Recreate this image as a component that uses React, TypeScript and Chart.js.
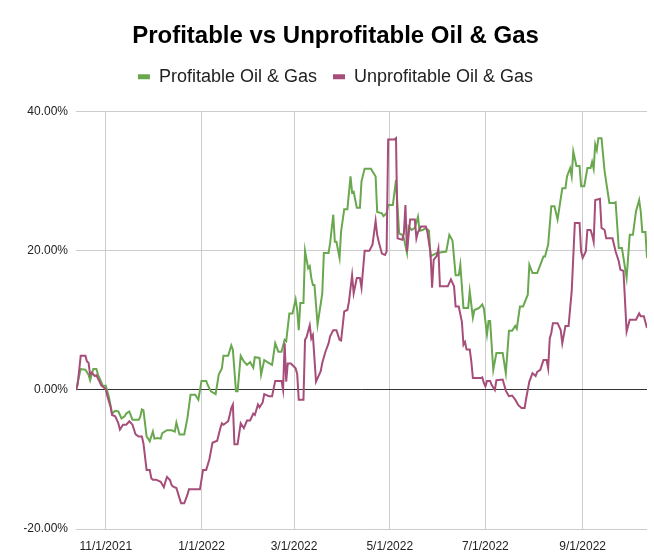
import React, { useEffect, useRef } from 'react';
import { Chart, registerables } from 'chart.js';

Chart.register(...registerables);

const TITLE = 'Profitable vs Unprofitable Oil & Gas';
const seriesNames = ['Profitable Oil & Gas', 'Unprofitable Oil & Gas'];
const seriesColors = ['#6aa84f', '#a64d79'];

const profitableDates = [
  '2021-10-13','2021-10-16','2021-10-19','2021-10-21','2021-10-22','2021-10-24','2021-10-26','2021-10-27','2021-10-29','2021-10-30',
  '2021-11-01','2021-11-03','2021-11-05','2021-11-07','2021-11-09','2021-11-11','2021-11-13','2021-11-14','2021-11-16','2021-11-17',
  '2021-11-18','2021-11-22','2021-11-23','2021-11-24','2021-11-25','2021-11-27','2021-11-28','2021-11-29','2021-12-01','2021-12-02',
  '2021-12-04','2021-12-06','2021-12-07','2021-12-10','2021-12-13','2021-12-15','2021-12-16','2021-12-18','2021-12-21','2021-12-23',
  '2021-12-25','2021-12-28','2021-12-30','2022-01-01','2022-01-04','2022-01-05','2022-01-07','2022-01-10','2022-01-12','2022-01-14',
  '2022-01-15','2022-01-18','2022-01-20','2022-01-21','2022-01-23','2022-01-24','2022-01-26','2022-01-28','2022-01-30','2022-02-01',
  '2022-02-03','2022-02-04','2022-02-07','2022-02-08','2022-02-10','2022-02-12','2022-02-15','2022-02-17','2022-02-19','2022-02-21',
  '2022-02-23','2022-02-24','2022-02-26','2022-02-28','2022-03-02','2022-03-03','2022-03-04','2022-03-05','2022-03-07','2022-03-08',
  '2022-03-10','2022-03-11','2022-03-12','2022-03-13','2022-03-14','2022-03-16','2022-03-19','2022-03-20','2022-03-23','2022-03-24',
  '2022-03-26','2022-03-27','2022-03-28','2022-03-30','2022-03-31','2022-04-02','2022-04-04','2022-04-06','2022-04-07','2022-04-08',
  '2022-04-10','2022-04-12','2022-04-13','2022-04-15','2022-04-19','2022-04-22','2022-04-23','2022-04-26','2022-04-27','2022-04-29',
  '2022-04-30','2022-05-03','2022-05-05','2022-05-07','2022-05-09','2022-05-10','2022-05-12','2022-05-13','2022-05-15','2022-05-17',
  '2022-05-19','2022-05-20','2022-05-22','2022-05-24','2022-05-26','2022-05-27','2022-05-31','2022-06-06','2022-06-08','2022-06-10',
  '2022-06-12','2022-06-14','2022-06-15','2022-06-17','2022-06-20','2022-06-21','2022-06-23','2022-06-24','2022-06-27','2022-06-29',
  '2022-06-30','2022-07-02','2022-07-03','2022-07-04','2022-07-06','2022-07-08','2022-07-12','2022-07-14','2022-07-16','2022-07-18',
  '2022-07-20','2022-07-21','2022-07-23','2022-07-25','2022-07-28','2022-07-29','2022-07-31','2022-08-03','2022-08-05','2022-08-07',
  '2022-08-08','2022-08-10','2022-08-12','2022-08-14','2022-08-16','2022-08-19','2022-08-21','2022-08-22','2022-08-24','2022-08-25',
  '2022-08-26','2022-08-28','2022-08-30','2022-08-31','2022-09-02','2022-09-04','2022-09-06','2022-09-07','2022-09-08','2022-09-09',
  '2022-09-10','2022-09-11','2022-09-13','2022-09-14','2022-09-15','2022-09-18','2022-09-21','2022-09-22','2022-09-24','2022-09-26',
  '2022-09-27','2022-09-29','2022-10-01','2022-10-03','2022-10-05','2022-10-07','2022-10-08','2022-10-09','2022-10-11','2022-10-12',
];

const profitableValues = [
  0, 3.0, 2.9, 2.2, 1.4, 3.0, 3.0, 2.2, 1.2, 0.6,
  0.6, -1.0, -3.4, -3.0, -3.1, -4.1, -3.8, -3.4, -3.1, -3.7,
  -4.3, -4.3, -3.8, -2.8, -2.9, -6.7, -7.0, -7.4, -6.0, -7.0,
  -6.9, -7.0, -6.2, -5.8, -5.8, -6.0, -4.7, -6.4, -6.4, -4.1,
  -0.7, -0.7, -1.4, 1.3, 1.3, 0.7, -0.2, -0.6, 2.2, 3.1,
  4.9, 4.9, 6.4, 5.8, -0.2, -0.2, 4.9, 4.1, 3.6, 4.0,
  3.2, 4.7, 4.6, 2.2, 4.3, 4.0, 3.6, 6.7, 5.5, 5.5,
  7.2, 7.0, 11.0, 11.0, 13.0, 11.5, 8.6, 12.5, 12.5, 20.0,
  17.5, 17.8, 16.1, 15.1, 15.1, 9.4, 13.9, 19.7, 19.7, 21.1,
  25.2, 21.3, 21.3, 19.0, 22.8, 26.0, 26.0, 30.7, 28.4, 28.5,
  26.2, 26.2, 30.0, 31.8, 31.8, 30.7, 25.6, 25.4, 25.0, 25.4,
  26.6, 26.6, 30.2, 22.5, 22.3, 21.8, 19.7, 23.5, 23.0, 23.3,
  24.9, 22.9, 23.0, 23.3, 22.9, 19.2, 19.7, 19.9, 22.3, 21.5,
  16.5, 16.5, 18.0, 11.8, 11.8, 14.2, 10.4, 11.5, 11.8, 12.3,
  11.7, 8.0, 9.9, 9.9, 2.9, 5.3, 5.3, 2.4, 8.5, 8.5,
  9.2, 8.8, 12.0, 12.0, 13.7, 18.0, 16.8, 16.8, 18.0, 19.2,
  19.2, 20.9, 26.4, 26.4, 24.5, 29.0, 29.0, 30.7, 31.9, 30.7,
  34.3, 32.2, 32.2, 29.3, 29.3, 31.9, 31.9, 32.8, 31.8, 35.3,
  34.5, 36.2, 36.2, 33.8, 31.4, 26.9, 26.9, 27.0, 20.4, 20.4,
  19.0, 16.1, 22.3, 22.3, 25.7, 27.3, 25.7, 22.7, 22.7, 19.0,
];

const unprofitableDates = [
  '2021-10-13','2021-10-14','2021-10-16','2021-10-19','2021-10-20','2021-10-21','2021-10-22','2021-10-23','2021-10-25','2021-10-26',
  '2021-10-28','2021-10-29','2021-10-30','2021-11-01','2021-11-02','2021-11-04','2021-11-05','2021-11-07','2021-11-09','2021-11-10',
  '2021-11-12','2021-11-14','2021-11-16','2021-11-18','2021-11-20','2021-11-22','2021-11-24','2021-11-25','2021-11-27','2021-11-29',
  '2021-11-30','2021-12-01','2021-12-03','2021-12-04','2021-12-06','2021-12-08','2021-12-09','2021-12-10','2021-12-12','2021-12-13',
  '2021-12-14','2021-12-16','2021-12-18','2021-12-19','2021-12-21','2021-12-23','2021-12-24','2021-12-28','2021-12-31','2022-01-02',
  '2022-01-04','2022-01-06','2022-01-08','2022-01-11','2022-01-13','2022-01-14','2022-01-15','2022-01-18','2022-01-19','2022-01-20',
  '2022-01-21','2022-01-22','2022-01-24','2022-01-26','2022-01-28','2022-01-30','2022-02-01','2022-02-03','2022-02-04','2022-02-06',
  '2022-02-07','2022-02-09','2022-02-10','2022-02-13','2022-02-15','2022-02-17','2022-02-21','2022-02-22','2022-02-23','2022-02-24',
  '2022-02-25','2022-02-27','2022-03-02','2022-03-03','2022-03-04','2022-03-07','2022-03-08','2022-03-09','2022-03-11','2022-03-12',
  '2022-03-13','2022-03-15','2022-03-18','2022-03-19','2022-03-21','2022-03-23','2022-03-24','2022-03-26','2022-03-28','2022-03-30',
  '2022-03-31','2022-04-02','2022-04-04','2022-04-05','2022-04-07','2022-04-08','2022-04-10','2022-04-12','2022-04-13','2022-04-15',
  '2022-04-18','2022-04-20','2022-04-22','2022-04-23','2022-04-24','2022-04-26','2022-04-28','2022-04-29','2022-04-30','2022-05-04',
  '2022-05-05','2022-05-06','2022-05-09','2022-05-10','2022-05-11','2022-05-12','2022-05-14','2022-05-17','2022-05-18','2022-05-19',
  '2022-05-21','2022-05-24','2022-05-25','2022-05-27','2022-05-28','2022-05-29','2022-05-31','2022-06-01','2022-06-02','2022-06-07',
  '2022-06-09','2022-06-11','2022-06-12','2022-06-14','2022-06-16','2022-06-17','2022-06-18','2022-06-19','2022-06-21','2022-06-22',
  '2022-06-23','2022-06-28','2022-06-29','2022-06-30','2022-07-01','2022-07-02','2022-07-04','2022-07-05','2022-07-07','2022-07-08',
  '2022-07-12','2022-07-14','2022-07-16','2022-07-18','2022-07-20','2022-07-22','2022-07-24','2022-07-26','2022-07-27','2022-07-29',
  '2022-07-31','2022-08-02','2022-08-03','2022-08-05','2022-08-07','2022-08-09','2022-08-10','2022-08-11','2022-08-12','2022-08-13',
  '2022-08-16','2022-08-18','2022-08-19','2022-08-21','2022-08-23','2022-08-25','2022-08-27','2022-08-30','2022-08-31','2022-09-01',
  '2022-09-03','2022-09-04','2022-09-06','2022-09-07','2022-09-08','2022-09-09','2022-09-12','2022-09-13','2022-09-15','2022-09-16',
  '2022-09-20','2022-09-22','2022-09-24','2022-09-25','2022-09-27','2022-09-29','2022-10-01','2022-10-05','2022-10-07','2022-10-08',
  '2022-10-10','2022-10-12',
];

const unprofitableValues = [
  0, 0.7, 4.9, 4.9, 4.1, 3.9, 2.2, 2.5, 2.0, 2.1,
  1.2, 0.7, 0.5, 0.1, -0.9, -2.4, -3.6, -3.8, -4.8, -5.7,
  -5.0, -5.0, -4.5, -5.0, -6.4, -6.7, -6.7, -7.7, -11.5, -11.5,
  -12.7, -12.9, -12.9, -13.0, -13.2, -14.0, -13.2, -12.5, -13.0, -13.7,
  -13.9, -14.1, -15.6, -16.3, -16.3, -15.1, -14.3, -14.3, -14.3, -11.5,
  -11.5, -10.0, -7.6, -7.3, -5.5, -4.8, -5.0, -4.5, -3.6, -2.6,
  -2.1, -7.8, -7.8, -4.8, -5.5, -4.4, -4.4, -3.4, -3.6, -2.1,
  -2.5, -1.8, -0.6, -0.9, -0.9, 1.3, 1.3, 0.0, 6.7, 1.2,
  3.8, 3.8, 3.1, 2.3, -1.4, -1.4, 7.2, 7.6, 9.3, 7.4,
  7.9, 1.2, 2.7, 3.9, 5.5, 6.7, 7.7, 8.6, 8.6, 7.2,
  7.1, 11.3, 11.5, 12.7, 16.5, 13.9, 16.1, 16.1, 14.7, 20.0,
  20.0, 20.9, 24.3, 22.3, 21.3, 19.6, 19.4, 19.9, 36.0, 36.0,
  36.2, 21.8, 21.6, 22.5, 26.6, 19.9, 24.5, 24.5, 21.8, 22.7,
  23.5, 23.5, 22.7, 19.7, 14.7, 18.7, 19.3, 20.3, 14.9, 14.9,
  15.9, 14.9, 12.0, 12.0, 9.8, 6.5, 6.9, 5.8, 5.8, 4.1,
  1.7, 1.7, 1.8, 1.0, 0.5, 1.3, 1.3, 0.7, 0.0, 1.4,
  1.5, -0.1, -0.9, -0.8, -1.4, -2.2, -2.6, -2.6, -1.2, 1.2,
  2.4, 2.0, 2.6, 2.9, 4.3, 4.3, 3.1, 7.4, 8.2, 9.6,
  9.6, 8.6, 6.7, 9.2, 9.2, 14.2, 24.0, 24.0, 19.9, 19.0,
  19.9, 23.0, 23.0, 22.3, 21.3, 27.3, 27.5, 23.3, 23.0, 21.8,
  21.8, 19.9, 18.5, 17.3, 17.1, 8.4, 10.1, 10.1, 11.0, 10.6,
  10.6, 8.9,
];

const xTickDates = ['2021-11-01', '2022-01-01', '2022-03-01', '2022-05-01', '2022-07-01', '2022-09-01'];
const xTickLabels = ['11/1/2021', '1/1/2022', '3/1/2022', '5/1/2022', '7/1/2022', '9/1/2022'];
const xRange = ['2021-10-13', '2022-10-12'];
const yTicks = [-20, 0, 20, 40];

const toDay = (s: string) => {
  const [y, m, d] = s.split('-').map(Number);
  return Date.UTC(y, m - 1, d) / 86400000;
};

export default function App() {
  const ref = useRef<HTMLCanvasElement>(null);

  useEffect(() => {
    if (!ref.current) return;
    const font = "'Liberation Sans', Arial, Helvetica, sans-serif";

    const legendGap = {
      id: 'legendGap',
      beforeLayout(chart: any) {
        const lg = chart.legend;
        if (lg && !lg._gapPatched) {
          const fit = lg.fit;
          lg.fit = function () {
            fit.call(this);
            this.height += 16;
          };
          lg._gapPatched = true;
        }
      },
    };

    const chart = new Chart(ref.current, {
      type: 'line',
      data: {
        datasets: [
          {
            label: seriesNames[0],
            data: profitableDates.map((d, i) => ({ x: toDay(d), y: profitableValues[i] })),
            borderColor: seriesColors[0],
            backgroundColor: seriesColors[0],
            borderWidth: 2,
            pointRadius: 0,
            tension: 0,
            order: 1,
          },
          {
            label: seriesNames[1],
            data: unprofitableDates.map((d, i) => ({ x: toDay(d), y: unprofitableValues[i] })),
            borderColor: seriesColors[1],
            backgroundColor: seriesColors[1],
            borderWidth: 2,
            pointRadius: 0,
            tension: 0,
            order: 0,
          },
        ],
      },
      options: {
        responsive: false,
        animation: false,
        layout: { padding: { left: 24, right: 7, top: 0, bottom: 0 } },
        plugins: {
          title: {
            display: true,
            text: TITLE,
            color: '#000000',
            font: { family: font, size: 24, weight: 'bold' },
            padding: { top: 22, bottom: 1 },
          },
          legend: {
            display: true,
            position: 'top',
            labels: {
              color: '#222222',
              font: { family: font, size: 18 },
              boxWidth: 12,
              boxHeight: 5,
              padding: 16,
              sort: (a: any, b: any) => a.datasetIndex - b.datasetIndex,
              generateLabels: (c: any) =>
                (Chart.defaults.plugins.legend.labels.generateLabels as any)(c).map((l: any) => ({ ...l, lineWidth: 0 })),
            },
          },
          tooltip: { enabled: false },
        },
        scales: {
          x: {
            type: 'linear',
            min: toDay(xRange[0]),
            max: toDay(xRange[1]),
            afterBuildTicks: (s: any) => {
              s.ticks = xTickDates.map((d) => ({ value: toDay(d) }));
            },
            afterFit: (s: any) => {
              s.height = 31;
            },
            ticks: {
              autoSkip: false,
              maxRotation: 0,
              padding: 10,
              color: '#222222',
              font: { family: font, size: 12 },
              callback: (_v: any, i: number) => xTickLabels[i],
            },
            grid: { color: '#cccccc', drawTicks: false },
            border: { display: false },
          },
          y: {
            type: 'linear',
            min: yTicks[0],
            max: yTicks[yTicks.length - 1],
            afterBuildTicks: (s: any) => {
              s.ticks = yTicks.map((v) => ({ value: v }));
            },
            afterFit: (s: any) => {
              s.width = 52;
            },
            ticks: {
              padding: 8,
              color: '#222222',
              font: { family: font, size: 12 },
              callback: (v: any) => Number(v).toFixed(2) + '%',
            },
            grid: {
              color: (ctx: any) => (ctx.tick && ctx.tick.value === 0 ? '#333333' : '#cccccc'),
              drawTicks: false,
            },
            border: { display: false },
          },
        },
      } as any,
      plugins: [legendGap],
    });

    return () => chart.destroy();
  }, []);

  return (
    <canvas
      ref={ref}
      width={654}
      height={560}
      style={{ position: 'absolute', left: 0, top: 0, display: 'block' }}
    />
  );
}
